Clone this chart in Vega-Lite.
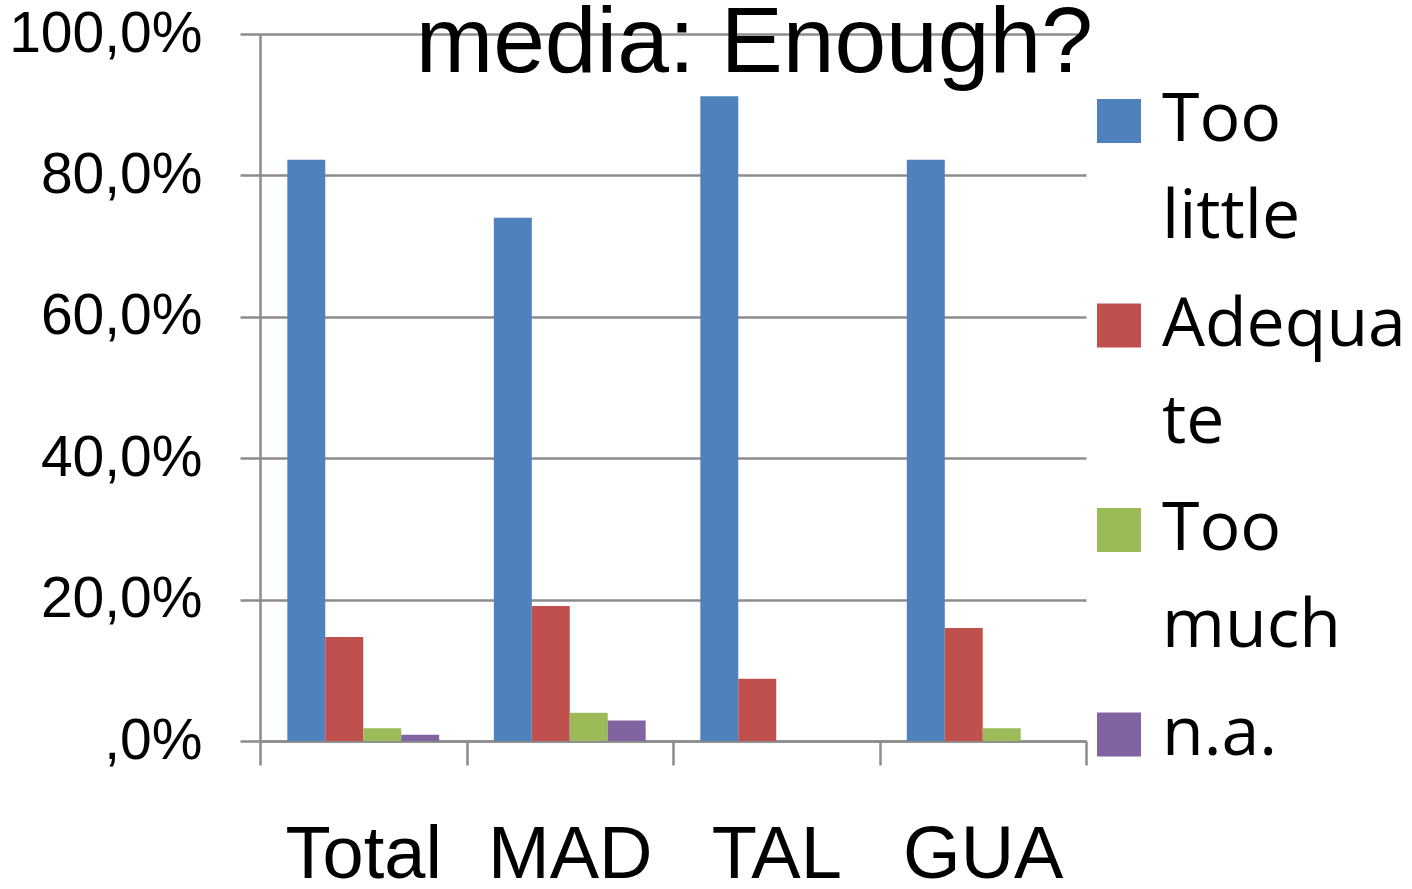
{
  "$schema": "https://vega.github.io/schema/vega-lite/v6.json",
  "autosize": {"type": "none"},
  "width": 826,
  "height": 707,
  "padding": {"left": 260, "top": 34, "right": 326, "bottom": 148},
  "background": "white",
  "title": {
    "text": "media: Enough?",
    "font": "Liberation Sans",
    "fontSize": 93,
    "fontWeight": "normal",
    "color": "black",
    "anchor": "end",
    "frame": "group",
    "offset": -87,
    "dx": 7
  },
  "data": {
    "values": [
      {"region": "Total", "answer": "Too little", "share": 0.822},
      {"region": "Total", "answer": "Adequate", "share": 0.147},
      {"region": "Total", "answer": "Too much", "share": 0.018},
      {"region": "Total", "answer": "n.a.", "share": 0.009},
      {"region": "MAD", "answer": "Too little", "share": 0.740},
      {"region": "MAD", "answer": "Adequate", "share": 0.191},
      {"region": "MAD", "answer": "Too much", "share": 0.040},
      {"region": "MAD", "answer": "n.a.", "share": 0.029},
      {"region": "TAL", "answer": "Too little", "share": 0.912},
      {"region": "TAL", "answer": "Adequate", "share": 0.088},
      {"region": "TAL", "answer": "Too much", "share": 0.0},
      {"region": "TAL", "answer": "n.a.", "share": 0.0},
      {"region": "GUA", "answer": "Too little", "share": 0.822},
      {"region": "GUA", "answer": "Adequate", "share": 0.160},
      {"region": "GUA", "answer": "Too much", "share": 0.018},
      {"region": "GUA", "answer": "n.a.", "share": 0.0}
    ]
  },
  "mark": {"type": "bar"},
  "encoding": {
    "x": {
      "field": "region",
      "type": "nominal",
      "sort": ["Total", "MAD", "TAL", "GUA"],
      "scale": {"paddingInner": 0, "paddingOuter": 0},
      "axis": {
        "title": null,
        "labelAngle": 0,
        "labelFont": "Liberation Sans",
        "labelFontSize": 74,
        "labelColor": "black",
        "labelPadding": 54,
        "labelLimit": 400,
        "tickBand": "extent",
        "tickSize": 24,
        "tickWidth": 2.5,
        "tickColor": "#8c8c8c",
        "domainColor": "#8c8c8c",
        "domainWidth": 2.5,
        "grid": false
      }
    },
    "xOffset": {
      "field": "answer",
      "type": "nominal",
      "sort": ["Too little", "Adequate", "Too much", "n.a."],
      "scale": {"paddingInner": 0, "paddingOuter": 0.72}
    },
    "y": {
      "field": "share",
      "type": "quantitative",
      "scale": {"domain": [0, 1], "nice": false},
      "axis": {
        "title": null,
        "values": [0, 0.2, 0.4, 0.6, 0.8, 1],
        "labelExpr": "datum.value == 0 ? ',0%' : replace(format(datum.value, '.1%'), '.', ',')",
        "labelFont": "Liberation Sans",
        "labelFontSize": 57,
        "labelColor": "black",
        "labelPadding": 38,
        "labelLimit": 400,
        "tickSize": 20,
        "tickWidth": 2.5,
        "tickColor": "#8c8c8c",
        "domainColor": "#8c8c8c",
        "domainWidth": 2.5,
        "grid": true,
        "gridColor": "#8c8c8c",
        "gridWidth": 2.5
      }
    },
    "color": {
      "field": "answer",
      "type": "nominal",
      "sort": ["Too little", "Adequate", "Too much", "n.a."],
      "scale": {
        "domain": ["Too little", "Adequate", "Too much", "n.a."],
        "range": ["#4F81BD", "#C0504D", "#9BBB59", "#8064A2"]
      },
      "legend": {
        "title": null,
        "orient": "none",
        "legendX": 825,
        "legendY": 53,
        "padding": 0,
        "symbolType": "square",
        "symbolSize": 1936,
        "symbolStrokeWidth": 0,
        "symbolOpacity": 1,
        "labelFont": "Open Sans",
        "labelFontSize": 68,
        "labelColor": "black",
        "labelOffset": 9,
        "labelLimit": 1000,
        "rowPadding": 39.5,
        "labelExpr": "datum.label == 'Too little' ? ['Too', 'little'] : datum.label == 'Adequate' ? ['Adequa', 'te'] : datum.label == 'Too much' ? ['Too', 'much'] : datum.label"
      }
    }
  },
  "config": {
    "view": {"stroke": null},
    "style": {"guide-label": {"lineHeight": 97}}
  }
}
